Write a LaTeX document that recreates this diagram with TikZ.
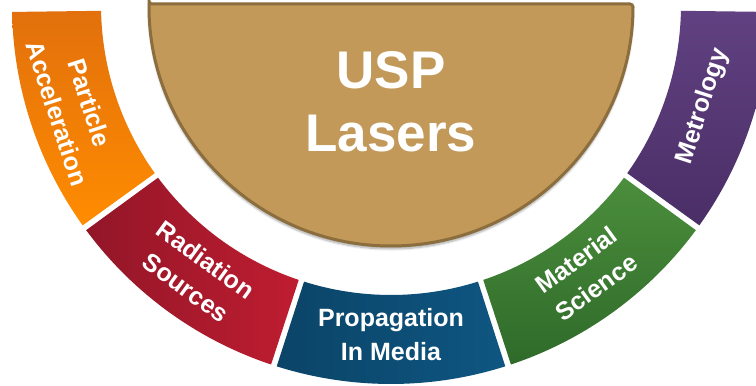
\documentclass[tikz,border=0pt]{standalone}
\usepackage{fontspec}
\setmainfont{Liberation Sans}
\usetikzlibrary{shadows.blur}

\definecolor{tanfill}{HTML}{C29959}
\definecolor{tanline}{HTML}{8C6D3E}
\definecolor{orangetop}{HTML}{E2700C}
\definecolor{orangebot}{HTML}{FF8C00}
\definecolor{redleft}{HTML}{921628}
\definecolor{redright}{HTML}{BF1D30}
\definecolor{blueleft}{HTML}{0B4467}
\definecolor{blueright}{HTML}{0E5682}
\definecolor{greendark}{HTML}{2F6A2A}
\definecolor{greenlight}{HTML}{4B8E3C}
\definecolor{purpletop}{HTML}{614181}
\definecolor{purplebot}{HTML}{4A2E66}

% one piece of the ring: start angle, end angle, fill style
\newcommand{\ringpart}[3]{%
  \path[#3] ({#1+0.45}:379) arc[start angle={#1+0.45}, end angle={#2-0.45}, radius=379]
    -- ({#2-0.55}:290) arc[start angle={#2-0.55}, end angle={#1+0.55}, radius=290] -- cycle;}

\begin{document}
\begin{tikzpicture}[x=1pt, y=1pt,
    seglabel/.style={text=white, font=\fontsize{25}{34}\selectfont\bfseries, align=center},
    corelabel/.style={text=white, font=\fontsize{53}{63}\selectfont\bfseries, align=center}]
        \useasboundingbox (0,0) rectangle (756,386);
        \clip (0,0) rectangle (756,386);

        % Ring of application fields
        \begin{scope}[shift={(391,381)}]
            \ringpart{180.6}{216}{top color=orangetop, bottom color=orangebot}
            \ringpart{216}{252}{left color=redleft, right color=redright}
            \ringpart{252}{288}{left color=blueleft, right color=blueright}
            \ringpart{288}{324}{top color=greenlight, bottom color=greendark}
            \ringpart{324}{359.4}{top color=purpletop, bottom color=purplebot}

            \node[seglabel, rotate=-72] (accel) at (198:334) {Particle\\Acceleration};
            \node[seglabel, rotate=-36] (radsrc) at (234:332) {Radiation\\Sources};
            \node[seglabel] (propag) at (270:330) {Propagation\\In Media};
            \node[seglabel, rotate=36] (matsci) at (306:332) {Material\\Science};
            \node[seglabel, rotate=72] (metro) at (342:328) {Metrology};
        \end{scope}

        % Laser core
        \draw[line width=3, draw=tanline, fill=tanfill, rounded corners=3,
              blur shadow={shadow xshift=0pt, shadow yshift=-3pt, shadow blur steps=8, shadow opacity=35}]
            (149,382) -- (633,382) arc[start angle=0, end angle=-180, radius=242] -- cycle;
        \node[corelabel] (core) at (391,284) {USP\\Lasers};
    \end{tikzpicture}
\end{document}
